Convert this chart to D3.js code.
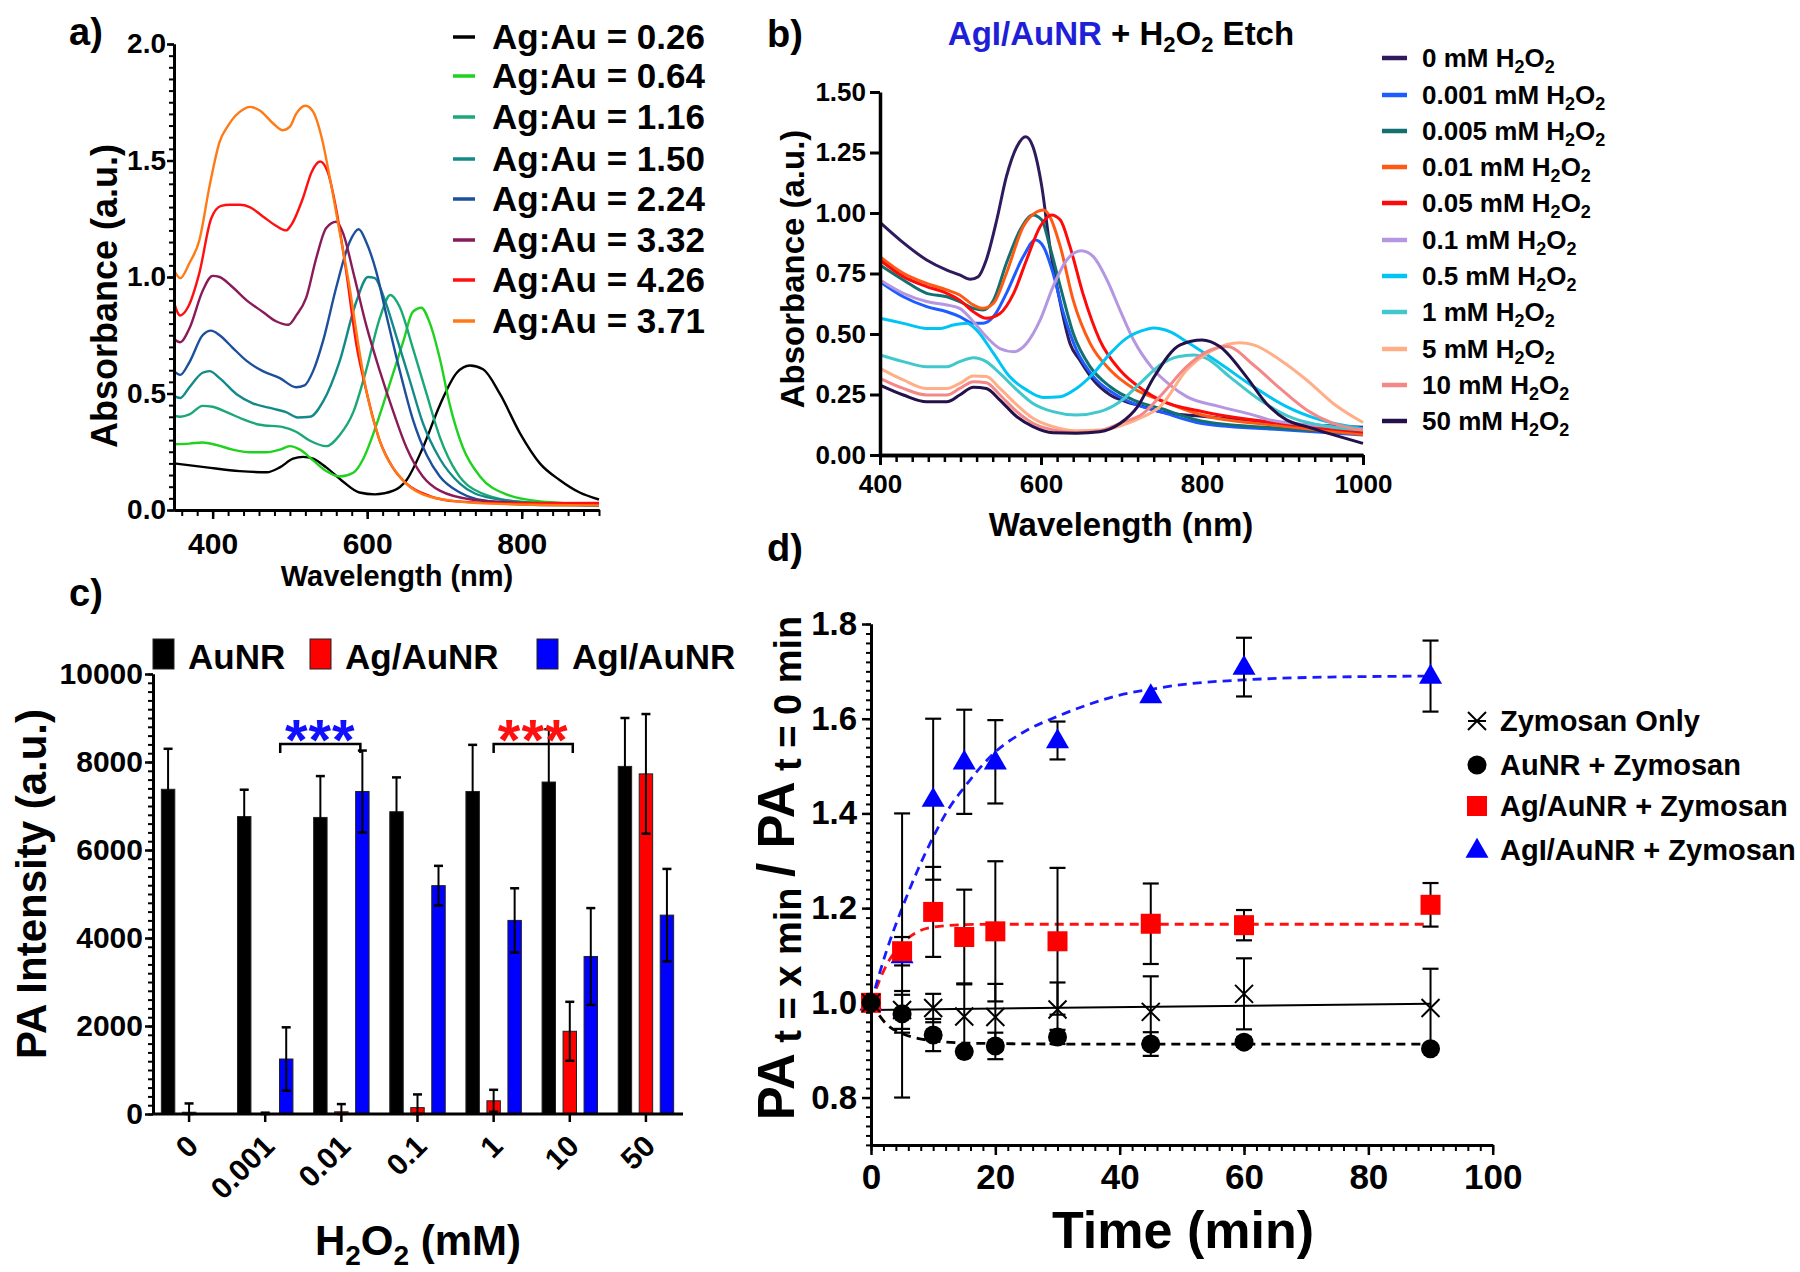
<!DOCTYPE html>
<html><head><meta charset="utf-8">
<script src="https://cdn.jsdelivr.net/npm/d3@7"></script>
<style>
body{margin:0;background:#fff;}
svg text{font-family:"Liberation Sans",Arial,sans-serif;font-weight:bold;}
</style></head><body>
<svg id="fig" width="1800" height="1272"></svg>
<script>
// ---------------- Panel a data ----------------
const aNames = ["Ag:Au = 0.26","Ag:Au = 0.64","Ag:Au = 1.16","Ag:Au = 1.50","Ag:Au = 2.24","Ag:Au = 3.32","Ag:Au = 4.26","Ag:Au = 3.71"];
const aColors = ["#000000","#1ed21e","#1aa874","#138a8a","#1c4f9c","#8a1a58","#ff1010","#ff7a14"];
const a026 = [[350,0.20],[392,0.183],[435,0.167],[470,0.162],[487,0.183],[504,0.22],[517,0.228],[530,0.22],[547,0.183],[569,0.121],[590,0.075],[610,0.067],[634,0.083],[651,0.129],[672,0.267],[694,0.45],[716,0.589],[733,0.62],[750,0.604],[772,0.497],[798,0.328],[824,0.198],[849,0.129],[875,0.075],[900,0.045]];
const a064 = [[350,0.282],[370,0.285],[387,0.29],[405,0.279],[426,0.259],[448,0.248],[470,0.248],[487,0.259],[500,0.274],[513,0.259],[530,0.213],[547,0.167],[564,0.144],[582,0.16],[595,0.22],[608,0.328],[625,0.497],[647,0.727],[659,0.85],[670,0.868],[681,0.803],[694,0.65],[707,0.45],[724,0.267],[746,0.144],[780,0.067],[824,0.037],[900,0.025]];
const a116 = [[350,0.405],[358,0.40],[370,0.41],[387,0.447],[400,0.443],[418,0.42],[439,0.39],[461,0.366],[491,0.356],[508,0.336],[526,0.297],[547,0.274],[564,0.32],[582,0.42],[599,0.604],[616,0.82],[630,0.923],[642,0.872],[659,0.696],[677,0.497],[694,0.313],[716,0.16],[746,0.075],[802,0.034],[900,0.025]];
const a150 = [[350,0.489],[358,0.481],[370,0.527],[387,0.589],[396,0.596],[409,0.566],[431,0.497],[452,0.458],[478,0.435],[495,0.42],[510,0.397],[526,0.40],[543,0.466],[564,0.635],[586,0.895],[601,1.0],[610,0.995],[621,0.918],[638,0.742],[655,0.558],[672,0.374],[694,0.22],[720,0.113],[759,0.052],[824,0.029],[900,0.02]];
const a224 = [[350,0.596],[358,0.58],[370,0.635],[387,0.75],[398,0.77],[409,0.75],[426,0.696],[444,0.64],[465,0.596],[487,0.566],[508,0.527],[519,0.535],[530,0.596],[543,0.727],[560,0.956],[577,1.148],[589,1.205],[599,1.148],[612,1.02],[625,0.834],[642,0.60],[659,0.39],[677,0.236],[694,0.144],[720,0.075],[759,0.037],[824,0.021],[900,0.02]];
const a332 = [[350,0.734],[358,0.72],[370,0.78],[387,0.94],[400,1.005],[409,1.0],[426,0.956],[444,0.90],[465,0.85],[482,0.81],[498,0.795],[508,0.834],[521,0.91],[534,1.08],[547,1.21],[560,1.237],[569,1.186],[582,1.02],[599,0.79],[616,0.60],[634,0.42],[651,0.267],[672,0.144],[694,0.083],[737,0.044],[802,0.03],[900,0.02]];
const a426 = [[350,0.89],[358,0.835],[368,0.87],[383,1.02],[398,1.25],[411,1.305],[422,1.31],[435,1.31],[448,1.30],[465,1.26],[482,1.22],[495,1.20],[502,1.225],[517,1.34],[528,1.45],[539,1.496],[549,1.45],[560,1.29],[573,1.02],[586,0.71],[599,0.51],[616,0.30],[633,0.183],[651,0.113],[681,0.06],[716,0.037],[780,0.029],[900,0.03]];
const a371 = [[350,1.03],[358,0.995],[370,1.06],[383,1.16],[396,1.39],[409,1.58],[420,1.65],[440,1.72],[448,1.73],[461,1.715],[478,1.66],[491,1.63],[500,1.645],[508,1.70],[520,1.735],[530,1.71],[541,1.60],[552,1.42],[564,1.20],[577,0.96],[590,0.68],[599,0.51],[616,0.30],[642,0.144],[672,0.067],[716,0.037],[780,0.025],[900,0.02]];
const aSeries = [a026,a064,a116,a150,a224,a332,a426,a371];
const aTickLabels = [0,0.5,1.0,1.5,2.0];
const aXTicks = [400,600,800];

// ---------------- Panel b data ----------------
const bNames = ["0","0.001","0.005","0.01","0.05","0.1","0.5","1","5","10","50"];
const bColors = ["#2e1a5c","#1f5cff","#137070","#ff5a14","#ff0a0a","#b596e0","#00c4f4","#40c8cc","#ffae88","#f48888","#24104a"];
const b0 = [[400,0.961],[425,0.888],[458,0.806],[483,0.764],[499,0.744],[512,0.726],[522,0.737],[532,0.806],[545,0.971],[557,1.15],[570,1.274],[581,1.315],[590,1.274],[601,1.109],[611,0.861],[624,0.627],[636,0.461],[648,0.393],[665,0.31],[686,0.248],[706,0.22],[727,0.20],[748,0.179],[800,0.16],[900,0.13],[1000,0.115]];
const b0001 = [[400,0.716],[429,0.654],[458,0.613],[483,0.592],[499,0.572],[516,0.544],[528,0.544],[541,0.572],[557,0.668],[578,0.82],[593,0.888],[603,0.861],[615,0.751],[628,0.585],[644,0.434],[665,0.324],[690,0.255],[719,0.207],[748,0.179],[800,0.13],[905,0.103],[1000,0.083]];
const b0005 = [[400,0.785],[429,0.723],[458,0.668],[483,0.654],[499,0.634],[516,0.606],[528,0.599],[541,0.64],[557,0.792],[574,0.93],[590,0.992],[601,0.971],[611,0.861],[624,0.696],[640,0.503],[661,0.365],[686,0.282],[715,0.227],[748,0.193],[800,0.14],[900,0.11],[1000,0.09]];
const b001 = [[400,0.82],[429,0.751],[458,0.709],[483,0.682],[499,0.661],[516,0.62],[528,0.606],[541,0.627],[557,0.751],[578,0.944],[595,1.005],[603,1.012],[611,0.985],[624,0.861],[640,0.64],[661,0.461],[686,0.351],[715,0.275],[748,0.227],[800,0.165],[900,0.12],[1000,0.085]];
const b005 = [[400,0.806],[429,0.737],[458,0.696],[483,0.668],[499,0.64],[516,0.592],[532,0.565],[549,0.585],[566,0.668],[582,0.806],[599,0.944],[613,0.992],[624,0.971],[636,0.861],[652,0.668],[673,0.475],[698,0.351],[727,0.269],[748,0.227],[800,0.18],[900,0.13],[1000,0.095]];
const b01 = [[400,0.723],[429,0.668],[458,0.634],[483,0.62],[499,0.606],[516,0.551],[532,0.489],[549,0.44],[566,0.427],[582,0.461],[599,0.558],[615,0.696],[632,0.806],[650,0.844],[665,0.82],[682,0.723],[698,0.6],[715,0.475],[738,0.36],[760,0.29],[781,0.241],[822,0.2],[864,0.165],[884,0.145],[950,0.12],[1000,0.105]];
const b05 = [[400,0.565],[429,0.544],[458,0.523],[475,0.523],[491,0.537],[508,0.544],[520,0.516],[541,0.42],[561,0.324],[582,0.269],[603,0.238],[624,0.241],[644,0.275],[665,0.337],[686,0.42],[706,0.482],[731,0.519],[740,0.525],[760,0.51],[781,0.468],[822,0.379],[864,0.282],[905,0.2],[947,0.145],[1000,0.11]];
const b1 = [[400,0.413],[429,0.386],[458,0.365],[483,0.365],[499,0.386],[516,0.402],[532,0.386],[549,0.337],[570,0.269],[590,0.213],[615,0.179],[644,0.165],[673,0.179],[698,0.22],[723,0.296],[748,0.372],[770,0.406],[790,0.413],[805,0.40],[834,0.324],[872,0.227],[913,0.152],[959,0.117],[1000,0.103]];
const b5 = [[400,0.358],[429,0.31],[458,0.275],[483,0.275],[499,0.296],[516,0.326],[532,0.324],[549,0.275],[570,0.207],[590,0.152],[615,0.117],[644,0.10],[673,0.103],[698,0.12],[727,0.158],[748,0.2],[781,0.351],[814,0.434],[847,0.464],[864,0.455],[897,0.393],[930,0.31],[963,0.213],[1000,0.134]];
const b10 = [[400,0.317],[429,0.275],[458,0.248],[483,0.248],[499,0.275],[516,0.303],[532,0.299],[549,0.248],[570,0.179],[590,0.131],[615,0.103],[644,0.092],[673,0.10],[698,0.131],[727,0.172],[750,0.25],[781,0.365],[805,0.425],[831,0.448],[864,0.372],[897,0.275],[930,0.186],[963,0.131],[1000,0.103]];
const b50 = [[400,0.289],[429,0.248],[458,0.22],[483,0.22],[499,0.248],[516,0.28],[532,0.275],[549,0.227],[570,0.158],[590,0.117],[615,0.092],[644,0.09],[673,0.096],[698,0.13],[720,0.2],[740,0.32],[773,0.455],[800,0.475],[822,0.448],[855,0.324],[880,0.213],[905,0.145],[930,0.117],[1000,0.048]];
const bSeries = [b0,b0001,b0005,b001,b005,b01,b05,b1,b5,b10,b50];
const bYTicks = [0,0.25,0.5,0.75,1.0,1.25,1.5];
const bXTicks = [400,600,800,1000];

// ---------------- Panel c data ----------------
const cCategories = ["0","0.001","0.01","0.1","1","10","50"];
const cGroups = ["AuNR","Ag/AuNR","AgI/AuNR"];
const cColors = ["#000000","#ff0000","#0000ff"];
const cAuNR = [7380,6760,6740,6870,7330,7545,7900];
const cAuNRErr = [920,610,940,780,1060,1200,1100];
const cAgAuNR = [40,10,50,145,300,1880,7730];
const cAgAuNRErr = [200,20,175,300,250,670,1360];
const cAgIAuNR = [10,1250,7330,5190,4400,3580,4520];
const cAgIAuNRErr = [0,720,930,450,730,1100,1050];
const cYTicks = [0,2000,4000,6000,8000,10000];

// ---------------- Panel d data ----------------
const dTimes = [0,5,10,15,20,30,45,60,90];
const dZym = [1.0,0.985,0.989,0.971,0.97,0.986,0.981,1.019,0.989];
const dZymErr = [0,0.04,0.03,0.07,0.07,0.057,0.075,0.075,0.083];
const dAu = [1.0,0.977,0.932,0.897,0.909,0.928,0.913,0.917,0.903];
const dAuErr = [0,0.04,0.034,0,0.028,0.015,0.025,0.01,0];
const dAg = [1.0,1.109,1.192,1.139,1.151,1.13,1.167,1.164,1.207];
const dAgErr = [0,0.03,0.095,0.10,0.148,0.155,0.085,0.032,0.046];
const dAgI = [1.0,1.10,1.43,1.509,1.509,1.554,1.649,1.709,1.69];
const dAgIErr = [0,0.30,0.17,0.11,0.088,0.04,0,0.062,0.075];
const dAgIFit = [[0,1.0],[2.5,1.11],[5,1.2],[7.5,1.28],[10,1.35],[12.5,1.41],[15,1.455],[20,1.53],[25,1.575],[30,1.605],[35,1.63],[40,1.65],[45,1.662],[50,1.672],[60,1.682],[70,1.687],[80,1.689],[90,1.69]];
const dAgFit = [[0,1.0],[2.5,1.08],[5,1.125],[7.5,1.15],[10,1.16],[15,1.165],[20,1.166],[30,1.166],[45,1.166],[60,1.166],[90,1.166]];
const dAuFit = [[0,1.0],[2.5,0.955],[5,0.935],[7.5,0.925],[10,0.92],[15,0.915],[20,0.914],[30,0.913],[45,0.913],[60,0.913],[90,0.913]];
const dZymFit = [[0,0.985],[90,0.998]];
const dNames = ["Zymosan Only","AuNR + Zymosan","Ag/AuNR + Zymosan","AgI/AuNR + Zymosan"];
const dXTicks = [0,20,40,60,80,100];
const dYTicks = [0.8,1.0,1.2,1.4,1.6,1.8];

// ================= drawing =================
const svg = d3.select("#fig");
svg.append("rect").attr("width",1800).attr("height",1272).attr("fill","#fff");

function styleAxis(g, fs, dw, tw){
  g.select(".domain").attr("stroke","#000").attr("stroke-width",dw);
  g.selectAll(".tick line").attr("stroke","#000").attr("stroke-width",tw);
  g.selectAll(".tick text").attr("font-size",fs).attr("fill","#000");
  return g;
}
function range(a,b,s){const r=[];for(let v=a;v<=b+1e-9;v+=s)r.push(+v.toFixed(6));return r;}
function panelLabel(t,x,y){svg.append("text").attr("x",x).attr("y",y).attr("font-size",38).text(t);}

// ---------- Panel a ----------
const xA = d3.scaleLinear().domain([350,900]).range([174,599]);
const yA = d3.scaleLinear().domain([0,2]).range([510,44]);
const gA = svg.append("g");
const lineA = d3.line().x(d=>xA(d[0])).y(d=>yA(d[1])).curve(d3.curveMonotoneX);
aSeries.forEach((s,i)=>{
  gA.append("path").attr("d",lineA(s)).attr("fill","none").attr("stroke",aColors[i]).attr("stroke-width",2.4);
});
styleAxis(gA.append("g").attr("transform","translate(0,510)").call(d3.axisBottom(xA).tickValues(range(360,900,20)).tickSize(6).tickSizeOuter(0).tickFormat("")),0,3,2);
styleAxis(gA.append("g").attr("transform","translate(0,510)").call(d3.axisBottom(xA).tickValues(aXTicks).tickSize(9).tickPadding(14).tickSizeOuter(0).tickFormat(d3.format("d"))),30,3,2.5);
styleAxis(gA.append("g").attr("transform","translate(174,0)").call(d3.axisLeft(yA).tickValues(range(0,2,0.05)).tickSize(5).tickSizeOuter(0).tickFormat("")),0,3,2);
styleAxis(gA.append("g").attr("transform","translate(174,0)").call(d3.axisLeft(yA).tickValues(aTickLabels).tickSize(7).tickPadding(1).tickSizeOuter(0).tickFormat(d3.format(".1f"))),28,3,2.5);
gA.append("text").attr("transform","translate(117,296) rotate(-90)").attr("text-anchor","middle").attr("font-size",36).text("Absorbance (a.u.)");
gA.append("text").attr("x",397).attr("y",586).attr("text-anchor","middle").attr("font-size",29).text("Wavelength (nm)");
const aRows = [37,76,117,159,199,240,280,321];
aNames.forEach((n,i)=>{
  gA.append("line").attr("x1",453).attr("x2",475).attr("y1",aRows[i]).attr("y2",aRows[i]).attr("stroke",aColors[i]).attr("stroke-width",3.5);
  gA.append("text").attr("x",492).attr("y",aRows[i]+12).attr("font-size",35).text(n);
});
panelLabel("a)",69,45);

// ---------- Panel b ----------
const xB = d3.scaleLinear().domain([400,1000]).range([880,1363]);
const yB = d3.scaleLinear().domain([0,1.5]).range([455,92]);
const gB = svg.append("g");
const lineB = d3.line().x(d=>xB(d[0])).y(d=>yB(d[1])).curve(d3.curveMonotoneX);
bSeries.forEach((s,i)=>{
  gB.append("path").attr("d",lineB(s)).attr("fill","none").attr("stroke",bColors[i]).attr("stroke-width",3);
});
styleAxis(gB.append("g").attr("transform","translate(0,455)").call(d3.axisBottom(xB).tickValues(range(400,1000,20)).tickSize(7).tickSizeOuter(0).tickFormat("")),0,3.5,2.5);
styleAxis(gB.append("g").attr("transform","translate(0,455)").call(d3.axisBottom(xB).tickValues(bXTicks).tickSize(10).tickPadding(10).tickSizeOuter(0).tickFormat(d3.format("d"))),26,3.5,3);
styleAxis(gB.append("g").attr("transform","translate(880,0)").call(d3.axisLeft(yB).tickValues(bYTicks).tickSize(10).tickPadding(4).tickSizeOuter(0).tickFormat(d3.format(".2f"))),26,3.5,3);
gB.append("text").attr("transform","translate(804,269) rotate(-90)").attr("text-anchor","middle").attr("font-size",33).text("Absorbance (a.u.)");
gB.append("text").attr("x",1121).attr("y",536).attr("text-anchor","middle").attr("font-size",33).text("Wavelength (nm)");
const title = gB.append("text").attr("x",1121).attr("y",45).attr("text-anchor","middle").attr("font-size",33);
title.append("tspan").attr("fill","#1f1fd8").text("AgI/AuNR");
title.append("tspan").text(" + H");
title.append("tspan").attr("font-size",22).attr("dy",7).text("2");
title.append("tspan").attr("dy",-7).text("O");
title.append("tspan").attr("font-size",22).attr("dy",7).text("2");
title.append("tspan").attr("dy",-7).text(" Etch");
const bRows = [58,95,131,167,203,240,276,312,349,385,421];
bNames.forEach((n,i)=>{
  gB.append("line").attr("x1",1382).attr("x2",1407).attr("y1",bRows[i]).attr("y2",bRows[i]).attr("stroke",bColors[i]).attr("stroke-width",4.5);
  const t = gB.append("text").attr("x",1422).attr("y",bRows[i]+9).attr("font-size",26);
  t.append("tspan").text(n+" mM H");
  t.append("tspan").attr("font-size",18).attr("dy",6).text("2");
  t.append("tspan").attr("dy",-6).text("O");
  t.append("tspan").attr("font-size",18).attr("dy",6).text("2");
});
panelLabel("b)",767,47);

// ---------- Panel c ----------
const xC = d3.scaleBand().domain(cCategories).range([151,684]);
const xCInner = d3.scaleBand().domain(cGroups).range([-31.5,31.5]).paddingInner(0.36).paddingOuter(0.18);
const yC = d3.scaleLinear().domain([0,10000]).range([1114,674]);
const gC = svg.append("g");
const cVals = [cAuNR,cAgAuNR,cAgIAuNR];
const cErrs = [cAuNRErr,cAgAuNRErr,cAgIAuNRErr];
cGroups.forEach((grp,gi)=>{
  cCategories.forEach((cat,ci)=>{
    const v = cVals[gi][ci], e = cErrs[gi][ci];
    const x0 = xC(cat)+xC.bandwidth()/2 + xCInner(grp);
    const cx = x0 + xCInner.bandwidth()/2;
    gC.append("rect").attr("x",x0).attr("y",yC(v)).attr("width",xCInner.bandwidth()).attr("height",yC(0)-yC(v))
      .attr("fill",cColors[gi]).attr("stroke","#222").attr("stroke-width",1);
    if(e>0){
      gC.append("line").attr("x1",cx).attr("x2",cx).attr("y1",yC(v+e)).attr("y2",yC(Math.max(0,v-e))).attr("stroke","#000").attr("stroke-width",2);
      gC.append("line").attr("x1",cx-4.5).attr("x2",cx+4.5).attr("y1",yC(v+e)).attr("y2",yC(v+e)).attr("stroke","#000").attr("stroke-width",2.5);
      if(gi>0) gC.append("line").attr("x1",cx-4.5).attr("x2",cx+4.5).attr("y1",yC(Math.max(0,v-e))).attr("y2",yC(Math.max(0,v-e))).attr("stroke","#000").attr("stroke-width",2.5);
    }
  });
});
styleAxis(gC.append("g").attr("transform","translate(153,0)").call(d3.axisLeft(yC).tickValues(range(0,10000,200)).tickSize(5).tickSizeOuter(0).tickFormat("")),0,3,2);
styleAxis(gC.append("g").attr("transform","translate(153,0)").call(d3.axisLeft(yC).tickValues(cYTicks).tickSize(8).tickPadding(2).tickSizeOuter(0).tickFormat(d3.format("d"))),30,3,2.5);
gC.append("line").attr("x1",153).attr("x2",683).attr("y1",1114).attr("y2",1114).attr("stroke","#000").attr("stroke-width",3);
cCategories.forEach(cat=>{
  const gx = xC(cat)+xC.bandwidth()/2;
  gC.append("line").attr("x1",gx).attr("x2",gx).attr("y1",1114).attr("y2",1122).attr("stroke","#000").attr("stroke-width",2.5);
  gC.append("text").attr("transform",`translate(${gx+11},${1148}) rotate(-45)`).attr("text-anchor","end").attr("font-size",30).text(cat);
});
function bracket(x1,x2,color,label){
  gC.append("path").attr("d",`M${x1},753 V744 H${x2} V753`).attr("fill","none").attr("stroke","#000").attr("stroke-width",2.5);
  gC.append("text").attr("x",(x1+x2)/2).attr("y",760).attr("text-anchor","middle").attr("font-size",58).attr("letter-spacing",1).attr("fill",color).text(label);
}
const bx = (cat,grp)=>xC(cat)+xC.bandwidth()/2+xCInner(grp)+xCInner.bandwidth()/2;
bracket(bx("0.001","AgI/AuNR")-6,bx("0.01","AgI/AuNR")-2,"#1010ff","***");
bracket(bx("1","Ag/AuNR"),bx("10","Ag/AuNR")+3,"#ff1010","***");
gC.append("text").attr("transform","translate(46,884) rotate(-90)").attr("text-anchor","middle").attr("font-size",42).text("PA Intensity (a.u.)");
const xl = gC.append("text").attr("x",418).attr("y",1255).attr("text-anchor","middle").attr("font-size",42);
xl.append("tspan").text("H");
xl.append("tspan").attr("font-size",28).attr("dy",10).text("2");
xl.append("tspan").attr("dy",-10).text("O");
xl.append("tspan").attr("font-size",28).attr("dy",10).text("2");
xl.append("tspan").attr("dy",-10).text("  (mM)");
const cLegX = [153,310,537];
cGroups.forEach((grp,gi)=>{
  gC.append("rect").attr("x",cLegX[gi]).attr("y",639).attr("width",21).attr("height",30).attr("fill",cColors[gi]).attr("stroke","#222").attr("stroke-width",1);
  gC.append("text").attr("x",cLegX[gi]+35).attr("y",669).attr("font-size",35).text(grp);
});
panelLabel("c)",69,606);

// ---------- Panel d ----------
const xD = d3.scaleLinear().domain([0,100]).range([871,1492.7]);
const yD = d3.scaleLinear().domain([0.7,1.8]).range([1144.9,624]);
const gD = svg.append("g");
const lineD = d3.line().x(d=>xD(d[0])).y(d=>yD(d[1])).curve(d3.curveMonotoneX);
gD.append("path").attr("d",lineD(dZymFit)).attr("fill","none").attr("stroke","#000").attr("stroke-width",2);
gD.append("path").attr("d",lineD(dAuFit)).attr("fill","none").attr("stroke","#000").attr("stroke-width",2.8).attr("stroke-dasharray","9,6");
gD.append("path").attr("d",lineD(dAgFit)).attr("fill","none").attr("stroke","#ff1010").attr("stroke-width",2.8).attr("stroke-dasharray","9,6");
gD.append("path").attr("d",lineD(dAgIFit)).attr("fill","none").attr("stroke","#1a1aff").attr("stroke-width",2.8).attr("stroke-dasharray","9,6");
const dSets = [[dZym,dZymErr],[dAu,dAuErr],[dAg,dAgErr],[dAgI,dAgIErr]];
dSets.forEach(([m,e])=>{
  dTimes.forEach((t,i)=>{
    if(e[i]>0){
      const cx = xD(t);
      gD.append("line").attr("x1",cx).attr("x2",cx).attr("y1",yD(m[i]+e[i])).attr("y2",yD(m[i]-e[i])).attr("stroke","#000").attr("stroke-width",2);
      [m[i]+e[i],m[i]-e[i]].forEach(v=>gD.append("line").attr("x1",cx-8).attr("x2",cx+8).attr("y1",yD(v)).attr("y2",yD(v)).attr("stroke","#000").attr("stroke-width",2.2));
    }
  });
});
function marker(g,type,x,y,legend){
  if(type===0){
    let d = `M${x-9},${y-9}L${x+9},${y+9}M${x-9},${y+9}L${x+9},${y-9}`;
    if(legend) d += `M${x-9},${y}L${x+9},${y}`;
    g.append("path").attr("d",d).attr("stroke","#000").attr("stroke-width",2).attr("fill","none");
  } else if(type===1){
    g.append("circle").attr("cx",x).attr("cy",y).attr("r",9.5).attr("fill","#000");
  } else if(type===2){
    g.append("rect").attr("x",x-10).attr("y",y-10).attr("width",20).attr("height",20).attr("fill","#ff0000");
  } else {
    g.append("path").attr("d",d3.symbol(d3.symbolTriangle,230)()).attr("transform",`translate(${x},${y+1})`).attr("fill","#0000ff");
  }
}
[3,2,1,0].forEach(si=>{
  const m = dSets[si][0];
  dTimes.forEach((t,i)=>marker(gD,si,xD(t),yD(m[i]),false));
});
styleAxis(gD.append("g").attr("transform","translate(0,1145)").call(d3.axisBottom(xD).tickValues(range(0,100,2)).tickSize(6).tickSizeOuter(0).tickFormat("")),0,3,2);
styleAxis(gD.append("g").attr("transform","translate(0,1145)").call(d3.axisBottom(xD).tickValues(dXTicks).tickSize(10).tickPadding(9).tickSizeOuter(0).tickFormat(d3.format("d"))),35,3,2.5);
styleAxis(gD.append("g").attr("transform","translate(871,0)").call(d3.axisLeft(yD).tickValues(range(0.7,1.8,0.02)).tickSize(5).tickSizeOuter(0).tickFormat("")),0,3,2);
styleAxis(gD.append("g").attr("transform","translate(871,0)").call(d3.axisLeft(yD).tickValues(dYTicks).tickSize(9).tickPadding(5).tickSizeOuter(0).tickFormat(d3.format(".1f"))),33,3,2.5);
gD.append("text").attr("x",1183).attr("y",1248).attr("text-anchor","middle").attr("font-size",52).text("Time (min)");
const yl = gD.append("text").attr("transform","translate(794,868) rotate(-90)").attr("text-anchor","middle").attr("font-size",51);
yl.append("tspan").text("PA");
yl.append("tspan").attr("font-size",38).attr("dy",7).text(" t = x min ");
yl.append("tspan").attr("dy",-7).text("/ PA");
yl.append("tspan").attr("font-size",38).attr("dy",7).text(" t = 0 min");
const dRows = [721,765,806,850];
dNames.forEach((n,i)=>{
  marker(gD,i,1477,dRows[i],true);
  gD.append("text").attr("x",1500).attr("y",dRows[i]+10).attr("font-size",29).text(n);
});
panelLabel("d)",767,561);
</script></body></html>
